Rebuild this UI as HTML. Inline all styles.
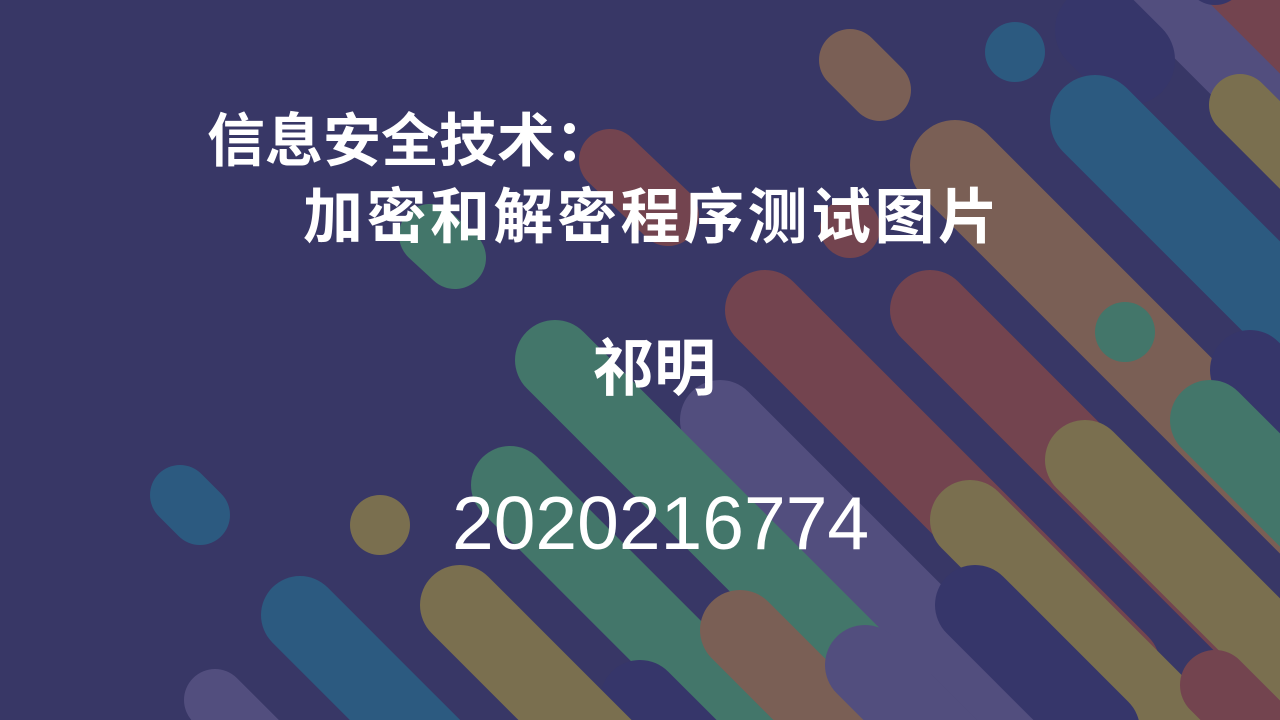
<!DOCTYPE html>
<html><head><meta charset="utf-8"><style>
html,body{margin:0;padding:0;width:1280px;height:720px;overflow:hidden;background:#383766;}
svg{position:absolute;left:0;top:0;overflow:hidden;}
.t{font-family:"Liberation Sans","Noto Sans CJK SC",sans-serif;fill:#fff;}
</style></head><body>
<svg width="1280" height="720" viewBox="0 0 1280 720">
<g stroke-linecap="round" fill="none">
 <line x1="1120" y1="-60" x2="1400" y2="220" stroke="#524e7e" stroke-width="90"/>
 <line x1="1230" y1="-40" x2="1400" y2="130" stroke="#73444f" stroke-width="90"/>
 <line x1="1200" y1="-40" x2="1215" y2="-25" stroke="#36366a" stroke-width="60"/>
 <line x1="1130" y1="60" x2="1100" y2="30" stroke="#36366a" stroke-width="90"/>
 <line x1="1240" y1="105" x2="1400" y2="265" stroke="#7a6f4f" stroke-width="62"/>
 <line x1="1095" y1="120" x2="1400" y2="425" stroke="#2c5a80" stroke-width="90"/>
 <line x1="610" y1="160" x2="668" y2="215" stroke="#73444f" stroke-width="62"/>
 <line x1="850" y1="60" x2="880" y2="90" stroke="#7a5f55" stroke-width="62"/>
 <line x1="955" y1="165" x2="1400" y2="610" stroke="#7a5f55" stroke-width="90"/>
 <line x1="1250" y1="370" x2="1400" y2="520" stroke="#36366a" stroke-width="80"/>
 <line x1="1210" y1="420" x2="1400" y2="610" stroke="#43766a" stroke-width="80"/>
 <line x1="930" y1="310" x2="1300" y2="680" stroke="#73444f" stroke-width="80"/>
 <line x1="765" y1="310" x2="1120" y2="665" stroke="#73444f" stroke-width="80"/>
 <line x1="1085" y1="460" x2="1400" y2="775" stroke="#7a6f4f" stroke-width="80"/>
 <line x1="970" y1="520" x2="1250" y2="800" stroke="#7a6f4f" stroke-width="80"/>
 <line x1="720" y1="420" x2="1020" y2="720" stroke="#524e7e" stroke-width="80"/>
 <line x1="555" y1="360" x2="880" y2="685" stroke="#43766a" stroke-width="80"/>
 <line x1="510" y1="485" x2="780" y2="755" stroke="#43766a" stroke-width="78"/>
 <line x1="640" y1="700" x2="700" y2="760" stroke="#36366a" stroke-width="80"/>
 <line x1="740" y1="630" x2="860" y2="750" stroke="#7a5f55" stroke-width="80"/>
 <line x1="865" y1="665" x2="950" y2="750" stroke="#524e7e" stroke-width="80"/>
 <line x1="975" y1="605" x2="1100" y2="730" stroke="#36366a" stroke-width="80"/>
 <line x1="1215" y1="685" x2="1300" y2="770" stroke="#73444f" stroke-width="70"/>
 <line x1="460" y1="605" x2="620" y2="765" stroke="#7a6f4f" stroke-width="80"/>
 <line x1="300" y1="615" x2="440" y2="755" stroke="#2c5a80" stroke-width="78"/>
 <line x1="215" y1="700" x2="260" y2="745" stroke="#524e7e" stroke-width="62"/>
 <line x1="180" y1="495" x2="200" y2="515" stroke="#2c5a80" stroke-width="60"/>
 <line x1="430" y1="235" x2="455" y2="258" stroke="#43766a" stroke-width="62"/>
</g>
<g>
 <circle cx="1015" cy="52" r="30" fill="#2c5a80"/>
 <circle cx="1125" cy="332" r="30" fill="#43766a"/>
 <circle cx="380" cy="525" r="30" fill="#7a6f4f"/>
 <circle cx="850" cy="228" r="30" fill="#73444f"/>
</g>
<text class="t" x="207" y="161" font-size="58" font-weight="bold">信息安全技术：</text>
<text class="t" x="303" y="238" font-size="60" font-weight="bold" letter-spacing="3.5">加密和解密程序测试图片</text>
<text class="t" x="592" y="390" font-size="62" font-weight="bold">祁明</text>
<text class="t" x="452" y="549" font-size="75">2020216774</text>
</svg>
</body></html>
